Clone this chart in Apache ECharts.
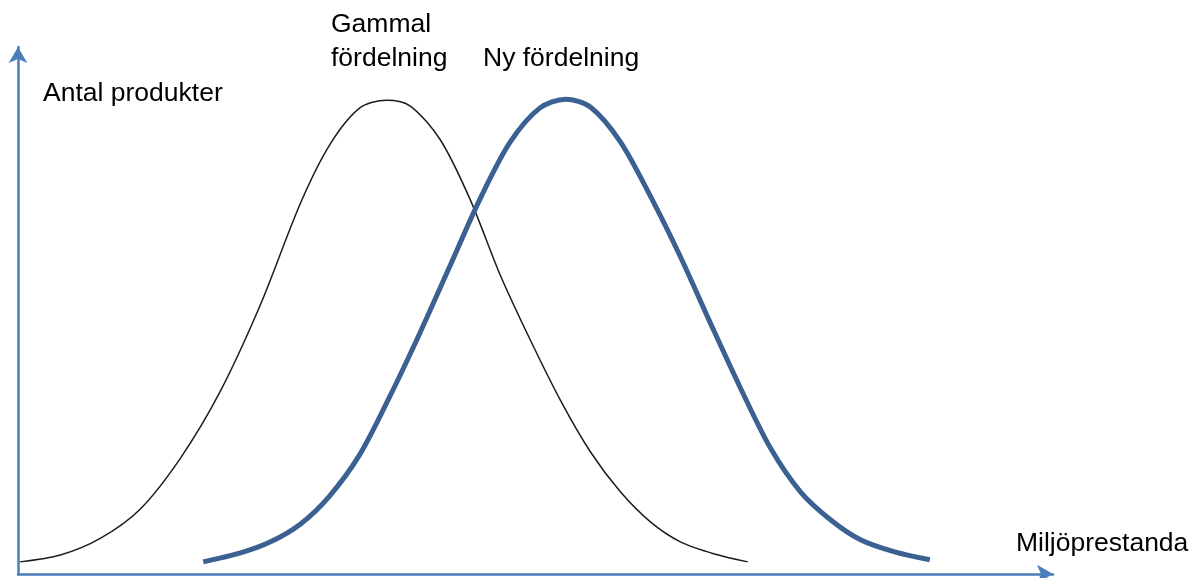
<!DOCTYPE html>
<html>
<head>
<meta charset="utf-8">
<title>Gammal och ny fördelning</title>
<script src="https://cdn.jsdelivr.net/npm/echarts@6/dist/echarts.min.js"></script>
<style>
  html, body { margin: 0; padding: 0; background: #fff; }
  #chart { width: 1195px; height: 578px; }
</style>
</head>
<body>
<div id="chart"></div>
<script>
// Gammal fördelning (tunn svart kurva), x = miljöprestanda, y = antal produkter
const gammalX = [0.2, 4.1, 7.9, 11.8, 15.7, 19.5, 23.4, 27.3, 30.1, 33.0, 35.6, 37.9, 40.8, 43.7, 46.6, 49.5, 52.4, 55.3, 58.2, 61.1, 64.0, 67.3, 70.5];
const gammalY = [2.3, 3.6, 6.7, 12.3, 22.0, 34.5, 51.0, 70.4, 81.4, 88.4, 89.9, 88.8, 82.4, 71.0, 56.7, 44.4, 33.0, 23.2, 15.6, 9.9, 6.1, 3.8, 2.3];

// Ny fördelning (tjock blå kurva)
const nyX = [17.9, 21.5, 24.4, 27.3, 30.1, 33.0, 35.9, 38.8, 41.7, 44.6, 47.5, 50.4, 52.9, 55.3, 58.2, 61.1, 64.0, 66.9, 69.8, 72.7, 75.6, 78.5, 81.4, 84.7, 88.1];
const nyY = [2.3, 4.0, 6.1, 9.5, 14.8, 22.6, 33.6, 45.6, 58.3, 71.0, 81.8, 88.4, 90.1, 88.6, 82.0, 71.7, 60.2, 47.6, 35.3, 23.9, 15.6, 10.3, 6.5, 4.2, 2.7];

const axisColor = '#4a7ebb';
const textFont = '26.5px "Liberation Sans", Arial, sans-serif';

function pairs(xs, ys) {
    return xs.map((x, i) => [x, ys[i]]);
}

const chart = echarts.init(document.getElementById('chart'));

const axisBase = {
    type: 'value',
    min: 0,
    max: 100,
    axisLine: {
        show: true,
        symbol: ['none', 'arrow'],
        symbolSize: [14, 16],
        lineStyle: { color: axisColor, width: 2.5 }
    },
    axisTick: { show: false },
    axisLabel: { show: false },
    splitLine: { show: false }
};

chart.setOption({
    animation: false,
    backgroundColor: '#ffffff',
    grid: { left: 18, right: 142, top: 47, bottom: 4 },
    xAxis: Object.assign({}, axisBase),
    yAxis: Object.assign({}, axisBase),
    series: [
        {
            name: 'Gammal fördelning',
            type: 'line',
            smooth: 0.3,
            symbol: 'none',
            lineStyle: { color: '#1c1c1c', width: 1.5 },
            data: pairs(gammalX, gammalY)
        },
        {
            name: 'Ny fördelning',
            type: 'line',
            smooth: 0.3,
            symbol: 'none',
            lineStyle: { color: '#3a6191', width: 5 },
            data: pairs(nyX, nyY)
        }
    ],
    graphic: [
        { type: 'text', left: 43, top: 80, style: { text: 'Antal produkter', font: textFont, fill: '#000' } },
        { type: 'text', left: 331, top: 11, style: { text: 'Gammal', font: textFont, fill: '#000' } },
        { type: 'text', left: 331, top: 45, style: { text: 'fördelning', font: textFont, fill: '#000' } },
        { type: 'text', left: 483, top: 45, style: { text: 'Ny fördelning', font: textFont, fill: '#000' } },
        { type: 'text', left: 1016, top: 530, style: { text: 'Miljöprestanda', font: textFont, fill: '#000' } }
    ]
});
</script>
</body>
</html>
